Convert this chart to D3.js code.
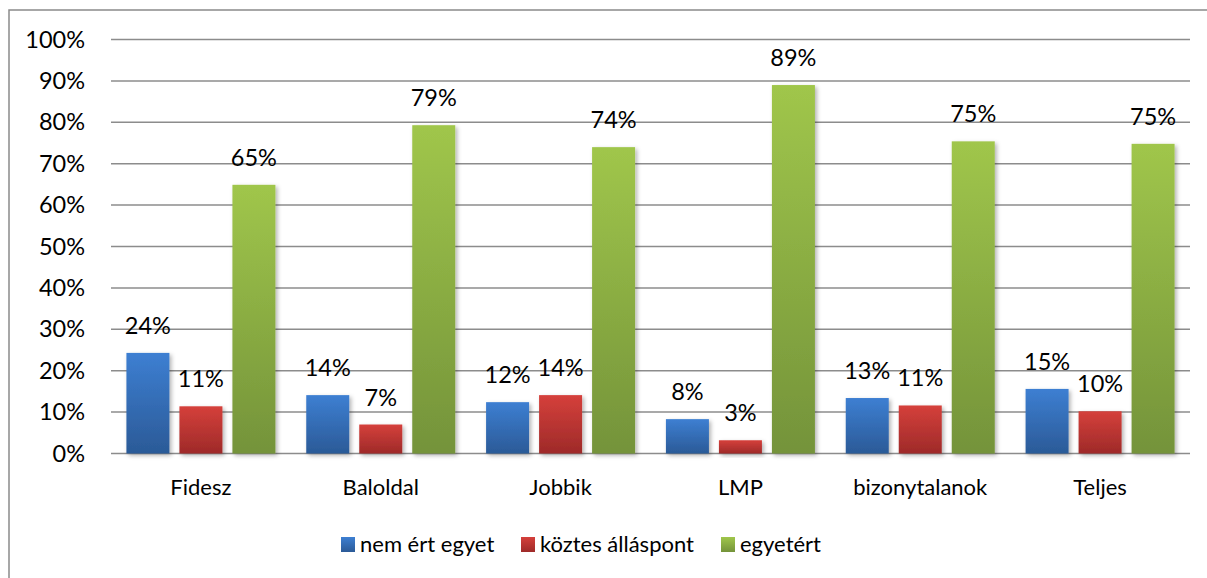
<!DOCTYPE html>
<html>
<head>
<meta charset="utf-8">
<script src="https://cdn.jsdelivr.net/npm/d3@7"></script>
<style>
  body { margin: 0; background: #fff; }
  svg text { font-family: Lato, "Open Sans", sans-serif; fill: #000; }
</style>
</head>
<body>
<div id="chart"></div>
<script>
// data
var categories = ["Fidesz", "Baloldal", "Jobbik", "LMP", "bizonytalanok", "Teljes"];
var seriesNames = ["nem ért egyet", "köztes álláspont", "egyetért"];
var disagree = [24.3, 14.1, 12.4, 8.3, 13.4, 15.6];
var neutral = [11.4, 7.0, 14.1, 3.2, 11.6, 10.2];
var agree = [64.9, 79.3, 74.0, 89.0, 75.4, 74.8];
var labels = [
  ["24%", "14%", "12%", "8%", "13%", "15%"],
  ["11%", "7%", "14%", "3%", "11%", "10%"],
  ["65%", "79%", "74%", "89%", "75%", "75%"]
];
var yTicks = [0, 10, 20, 30, 40, 50, 60, 70, 80, 90, 100];

var W = 1207, H = 578;
var gradStops = [
  ["#3d7fd2", "#2b5a97"],
  ["#d5403b", "#9e2a29"],
  ["#a0c64b", "#74933a"]
];

var svg = d3.select("#chart").append("svg")
  .attr("width", W).attr("height", H);

var defs = svg.append("defs");
gradStops.forEach(function(c, i) {
  var g = defs.append("linearGradient")
    .attr("id", "grad" + i)
    .attr("x1", 0).attr("y1", 0).attr("x2", 0).attr("y2", 1);
  g.append("stop").attr("offset", "0%").attr("stop-color", c[0]);
  g.append("stop").attr("offset", "100%").attr("stop-color", c[1]);
});
defs.append("filter").attr("id", "shadow")
  .attr("x", "-20%").attr("y", "-20%").attr("width", "150%").attr("height", "150%")
  .append("feDropShadow")
  .attr("dx", 2).attr("dy", 2).attr("stdDeviation", 2)
  .attr("flood-color", "#000").attr("flood-opacity", 0.3);

// outer frame (runs off the right and bottom edge)
svg.append("rect")
  .attr("x", 9).attr("y", 10)
  .attr("width", W + 20).attr("height", H + 20)
  .attr("fill", "none").attr("stroke", "#8a8a8a").attr("stroke-width", 1.5);

var x0 = d3.scaleBand().domain(categories).range([111, 1190]);
var y = d3.scaleLinear().domain([0, 100]).range([453.5, 39.5]);
var step = 53, barW = 43;

// gridlines
svg.append("g").selectAll("line")
  .data(yTicks)
  .enter()
  .append("line")
  .attr("x1", 111).attr("x2", 1190)
  .attr("y1", function(d) { return y(d); })
  .attr("y2", function(d) { return y(d); })
  .attr("stroke", "#8c8c8c")
  .attr("stroke-width", 1.5);

// y labels
svg.append("g").selectAll("text")
  .data(yTicks)
  .enter()
  .append("text")
  .attr("x", 85)
  .attr("y", function(d) { return y(d) + 8; })
  .attr("text-anchor", "end")
  .style("font-size", "23.5px")
  .text(function(d) { return d + "%"; });

// bars
var series = [disagree, neutral, agree];
series.forEach(function(vals, s) {
  var g = svg.append("g");
  g.selectAll("rect")
    .data(vals)
    .enter()
    .append("rect")
    .attr("x", function(d, i) { return x0(categories[i]) + x0.bandwidth() / 2 + (s - 1) * step - barW / 2; })
    .attr("y", function(d) { return y(d); })
    .attr("width", barW)
    .attr("height", function(d) { return y(0) - y(d); })
    .attr("fill", "url(#grad" + s + ")")
    .attr("filter", "url(#shadow)");

  g.selectAll("text")
    .data(vals)
    .enter()
    .append("text")
    .attr("x", function(d, i) { return x0(categories[i]) + x0.bandwidth() / 2 + (s - 1) * step; })
    .attr("y", function(d) { return y(d) - 19; })
    .attr("text-anchor", "middle")
    .style("font-size", "23.5px")
    .text(function(d, i) { return labels[s][i]; });
});

// category labels
svg.append("g").selectAll("text")
  .data(categories)
  .enter()
  .append("text")
  .attr("x", function(d) { return x0(d) + x0.bandwidth() / 2; })
  .attr("y", 495)
  .attr("text-anchor", "middle")
  .style("font-size", "22px")
  .text(function(d) { return d; });

// legend
var legendX = [341, 521, 721];
var legend = svg.append("g");
seriesNames.forEach(function(name, i) {
  legend.append("rect")
    .attr("x", legendX[i]).attr("y", 537)
    .attr("width", 14).attr("height", 15)
    .attr("fill", "url(#grad" + i + ")");
  legend.append("text")
    .attr("x", legendX[i] + 19).attr("y", 552)
    .style("font-size", "22px")
    .text(name);
});
</script>
</body>
</html>
